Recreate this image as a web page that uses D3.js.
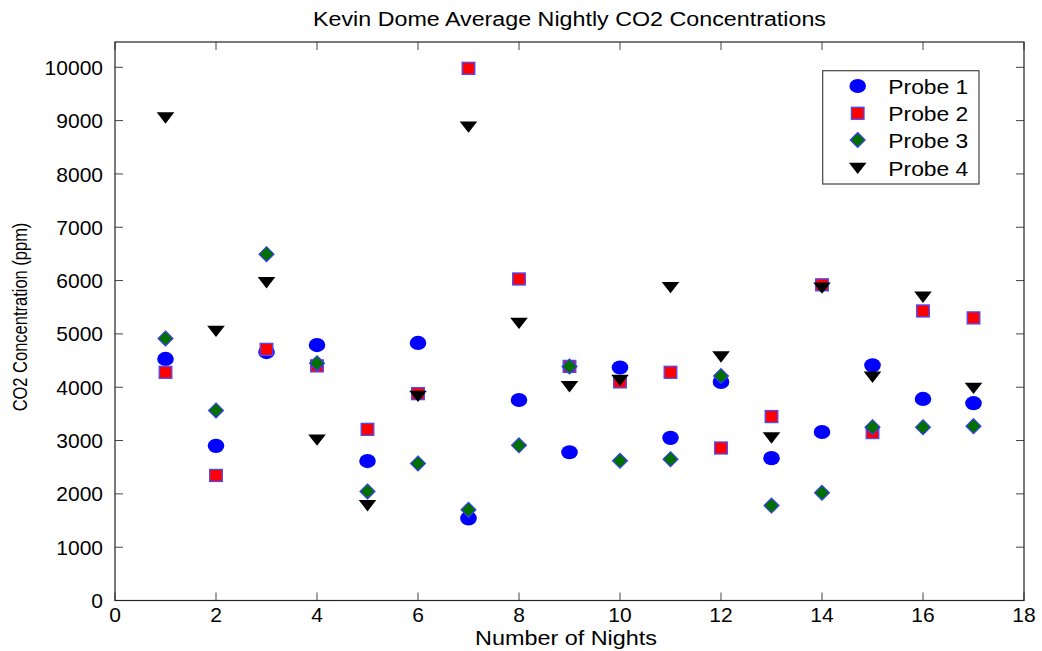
<!DOCTYPE html>
<html>
<head>
<meta charset="utf-8">
<script src="https://cdn.jsdelivr.net/npm/d3@7"></script>
<style>
  html, body { margin: 0; padding: 0; background: #fff; }
  text { font-family: "Liberation Sans", Arial, Helvetica, sans-serif; fill: #000; }
</style>
</head>
<body>
<svg id="chart" width="1042" height="651"></svg>
<script>
const nights = [1,2,3,4,5,6,7,8,9,10,11,12,13,14,15,16,17];
const probe1 = [4530,2900,4660,4790,2615,4830,1540,3760,2780,4370,3050,4100,2670,3160,4410,3780,3700];
const probe2 = [4280,2345,4710,4400,3210,3880,9980,6030,4390,4100,4280,2860,3450,5920,3150,5430,5300];
const probe3 = [4915,3565,6495,4450,2045,2570,1700,2910,4390,2620,2650,4210,1780,2020,3250,3250,3270];
const probe4 = [9050,5050,5960,3010,1780,3830,8880,5200,4010,4130,5870,4570,3050,5860,4190,5690,3980];
const seriesNames = ["Probe 1","Probe 2","Probe 3","Probe 4"];
const xTicks = [0,2,4,6,8,10,12,14,16,18];
const yTicks = [0,1000,2000,3000,4000,5000,6000,7000,8000,9000,10000];
const titleText = "Kevin Dome Average Nightly CO2 Concentrations";
const xLabel = "Number of Nights";
const yLabel = "CO2 Concentration (ppm)";

const svg = d3.select("#chart");
const L = 115, R = 1024, T = 42, B = 600.5;
const x = d3.scaleLinear().domain([0,18]).range([L,R]);
const y = d3.scaleLinear().domain([0,10000]).range([B,67.3]);

// ticks
const tickLen = 8;
const tg = svg.append("g");
yTicks.forEach(v => {
  tg.append("line").attr("x1",L).attr("x2",L+tickLen).attr("y1",y(v)).attr("y2",y(v)).attr("stroke","#444");
  tg.append("line").attr("x1",R).attr("x2",R-tickLen).attr("y1",y(v)).attr("y2",y(v)).attr("stroke","#444");
  tg.append("text").attr("x",103).attr("y",y(v)).attr("dy","0.36em").attr("text-anchor","end")
    .style("font-size","21px").text(v);
});
xTicks.forEach(v => {
  tg.append("line").attr("x1",x(v)).attr("x2",x(v)).attr("y1",B).attr("y2",B-tickLen).attr("stroke","#444");
  tg.append("line").attr("x1",x(v)).attr("x2",x(v)).attr("y1",T).attr("y2",T+tickLen).attr("stroke","#444");
  tg.append("text").attr("x",x(v)).attr("y",622).attr("text-anchor","middle")
    .style("font-size","21px").text(v);
});
// frame
svg.append("rect").attr("x",L).attr("y",T).attr("width",R-L).attr("height",B-T)
  .attr("fill","none").attr("stroke","#222").attr("stroke-width",1.2);

// titles
svg.append("text").attr("x",(L+R)/2).attr("y",26).attr("text-anchor","middle")
  .style("font-size","20px").attr("textLength",513).attr("lengthAdjust","spacingAndGlyphs").text(titleText);
svg.append("text").attr("x",566).attr("y",645).attr("text-anchor","middle")
  .style("font-size","20px").attr("textLength",182).attr("lengthAdjust","spacingAndGlyphs").text(xLabel);
svg.append("text").attr("transform","translate(26.5,317) scale(1.25,1) rotate(-90)").attr("text-anchor","middle")
  .style("font-size","16.5px").text(yLabel);

// marker shapes
function drawMarker(g, type, cx, cy) {
  if (type === 0) {
    g.append("ellipse").attr("cx",cx).attr("cy",cy).attr("rx",8.3).attr("ry",7.1).attr("fill","#0000ff");
  } else if (type === 1) {
    g.append("rect").attr("x",cx-6.3).attr("y",cy-6).attr("width",12.6).attr("height",12)
      .attr("fill","#ff0000").attr("stroke","#4a4aff").attr("stroke-width",1.3);
  } else if (type === 2) {
    g.append("path").attr("d",`M${cx},${cy-7.5}L${cx+7.5},${cy}L${cx},${cy+7.5}L${cx-7.5},${cy}Z`)
      .attr("fill","#007000").attr("stroke","#3a3aff").attr("stroke-width",1.1);
  } else {
    g.append("path").attr("d",`M${cx-8.8},${cy-5.6}L${cx+8.8},${cy-5.6}L${cx},${cy+5.8}Z`)
      .attr("fill","#000");
  }
}

const allSeries = [probe1, probe2, probe3, probe4];
const mg = svg.append("g");
allSeries.forEach((s, si) => {
  s.forEach((v, i) => drawMarker(mg, si, x(nights[i]), y(v)));
});

// legend
const lg = svg.append("g");
lg.append("rect").attr("x",822.7).attr("y",70.7).attr("width",156.3).attr("height",113.3)
  .attr("fill","#fff").attr("stroke","#444").attr("stroke-width",1.2);
const rowsY = [86, 113.3, 140, 168.3];
seriesNames.forEach((n, i) => {
  drawMarker(lg, i, 857.7, rowsY[i]);
  lg.append("text").attr("x",888.3).attr("y",rowsY[i]).attr("dy","0.36em")
    .style("font-size","21px").attr("textLength",80).attr("lengthAdjust","spacingAndGlyphs").text(n);
});
</script>
</body>
</html>
